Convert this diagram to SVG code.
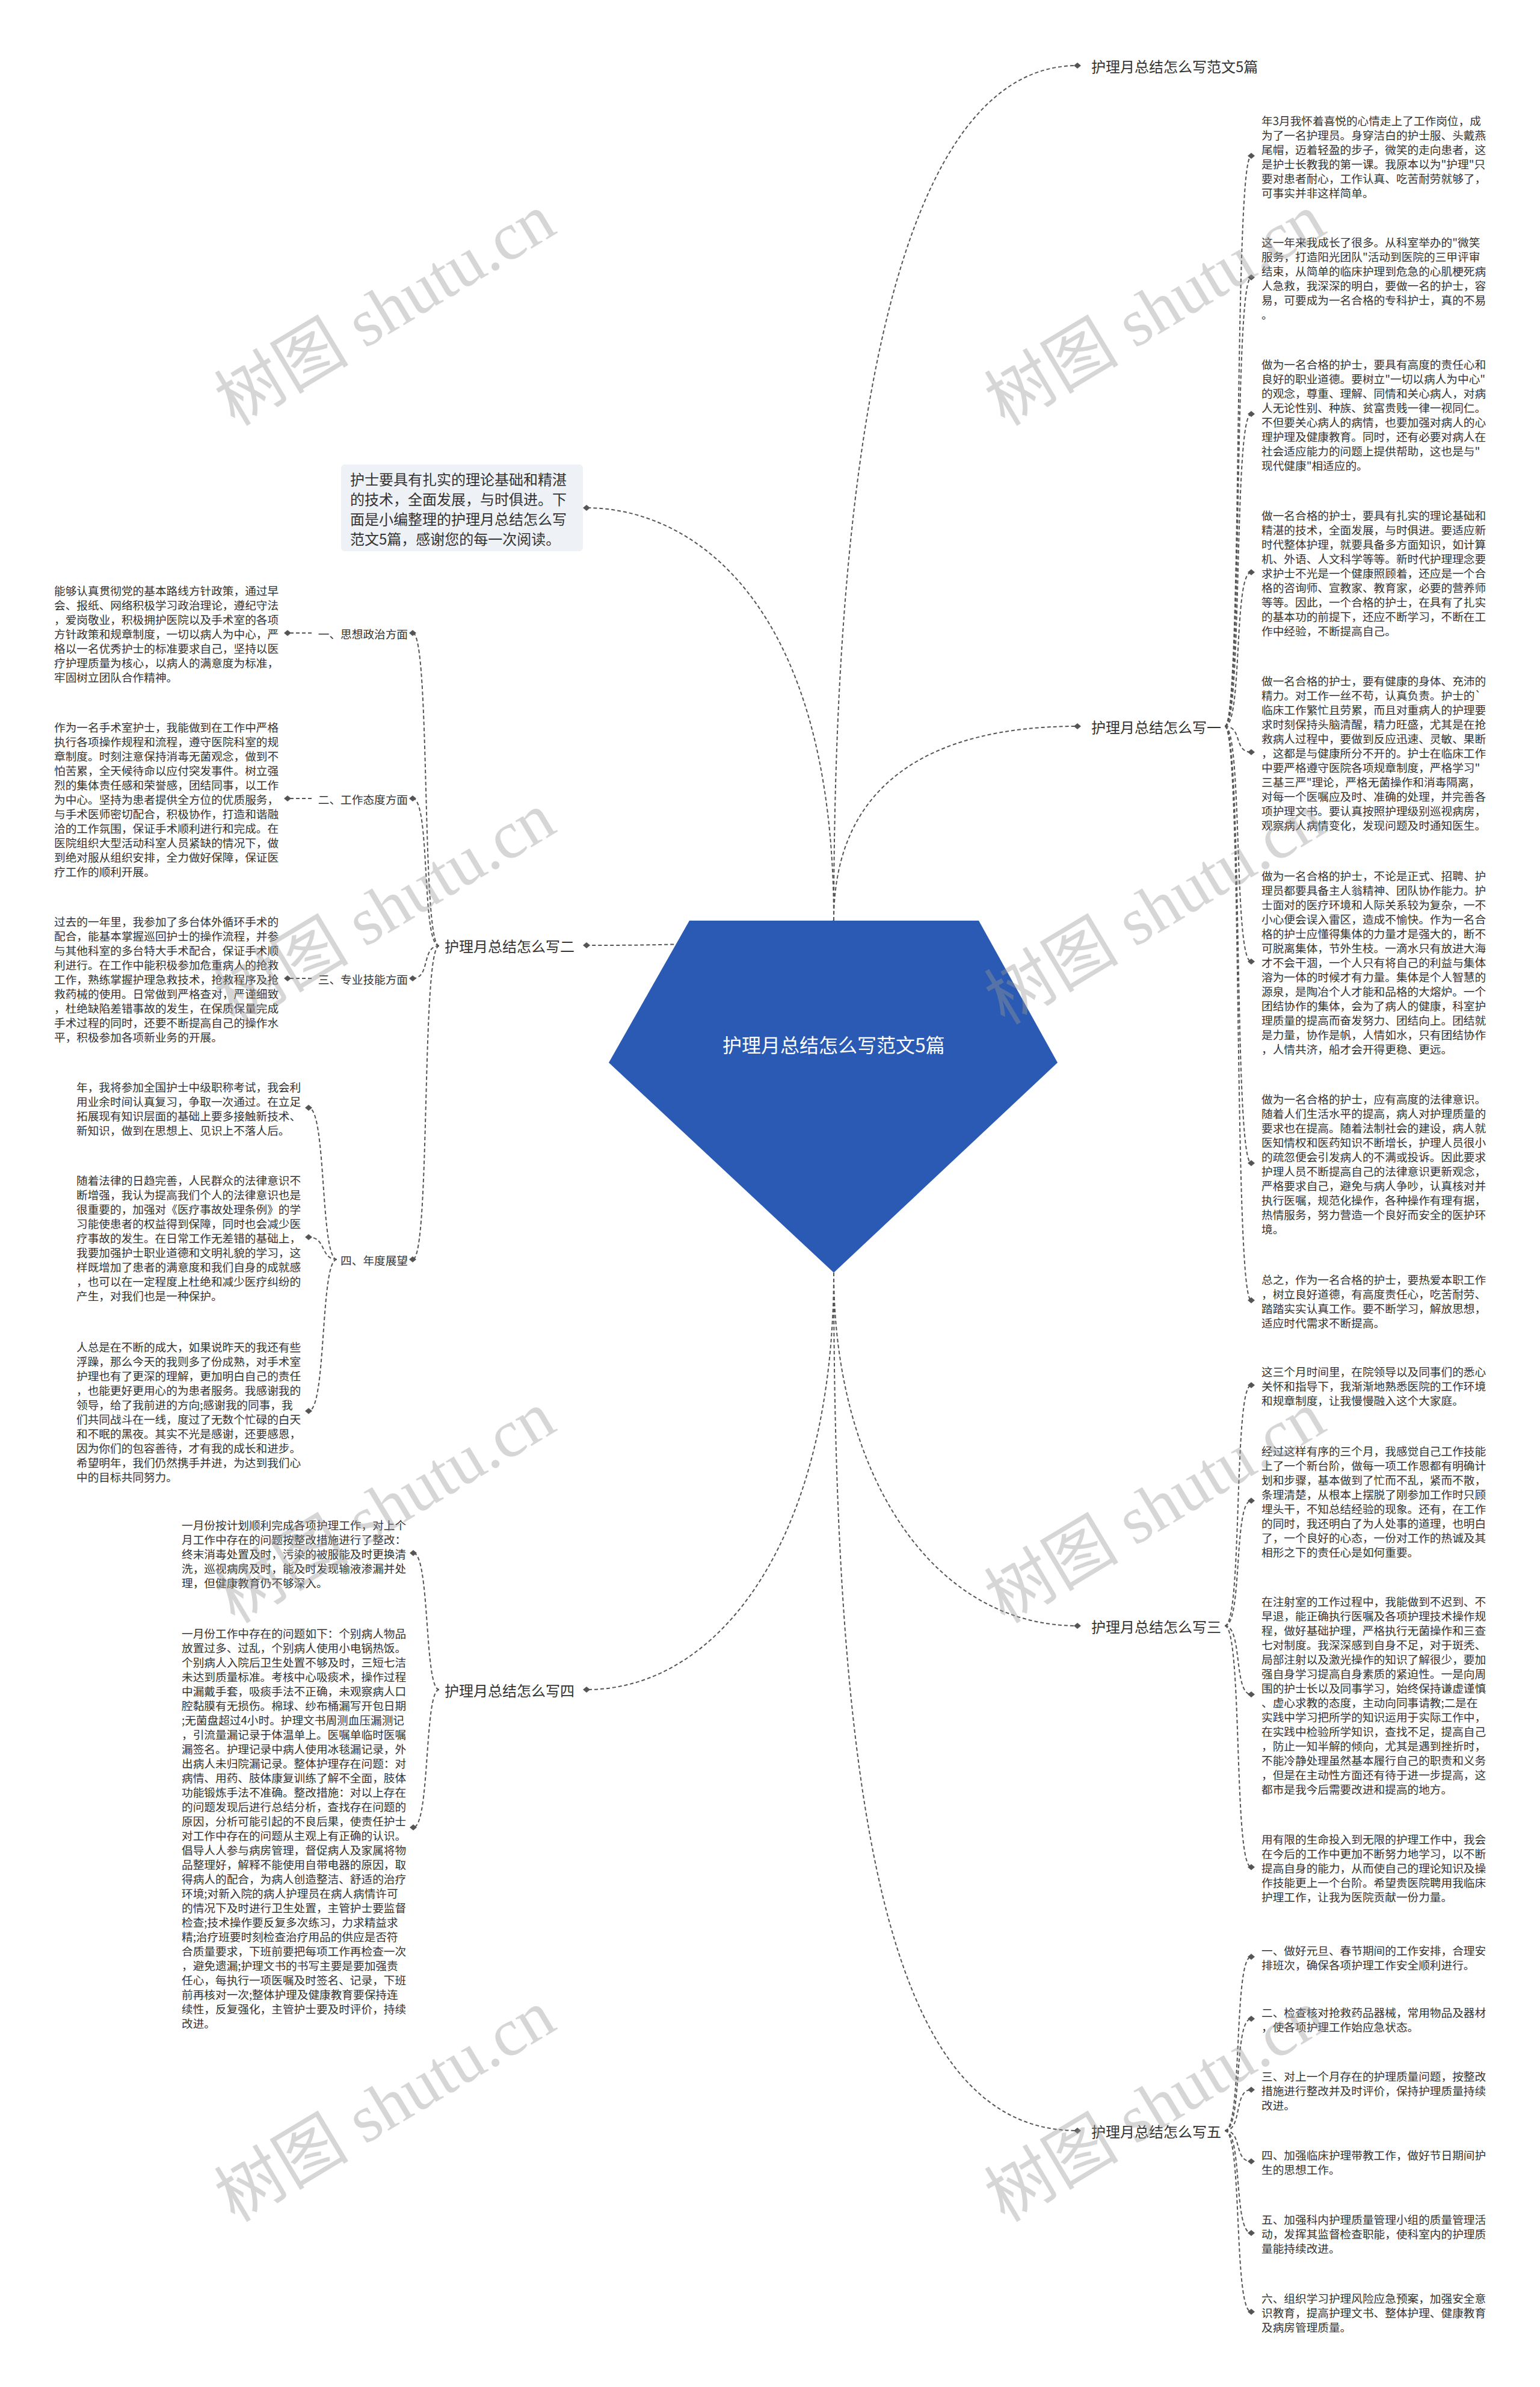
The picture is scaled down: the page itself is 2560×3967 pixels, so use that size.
<svg xmlns="http://www.w3.org/2000/svg" xmlns:xlink="http://www.w3.org/1999/xlink" width="2560" height="3967" viewBox="0 0 2560 3967">
<style>
.t{font-family:"Noto Sans CJK SC","Liberation Sans",sans-serif;font-size:18.67px;fill:#333;dominant-baseline:central}
.l1{font-family:"Noto Sans CJK SC","Liberation Sans",sans-serif;font-size:24px;fill:#333;dominant-baseline:central}
.l2{font-family:"Noto Sans CJK SC","Liberation Sans",sans-serif;font-size:18.67px;fill:#333;dominant-baseline:central;text-anchor:end}
.c{fill:none;stroke:#555;stroke-width:2;stroke-dasharray:6 4}
.wm{font-family:"Liberation Serif","Noto Sans CJK SC",serif;font-size:112px;fill:#999;fill-opacity:0.4;text-anchor:middle;dominant-baseline:central}
</style>
<defs>
<path id="dm" d="M-6,0 L0,-5 L6,0 L0,5 Z" fill="#555"/>
</defs>
<rect width="2560" height="3967" fill="#ffffff"/>

<g id="connectors">
<path class="c" d="M1386,1530 C1386,700 1500,109 1791,109"/>
<path class="c" d="M1386,1530 C1386,1300 1550,1207 1791,1207"/>
<path class="c" d="M1386,1530 C1386,1000 1150,844 975,844"/>
<path class="c" d="M1386,1530 C1300,1571 1100,1571 975,1571"/>
<path class="c" d="M1386,2115 C1386,2450 1550,2702 1791,2702"/>
<path class="c" d="M1386,2115 C1386,3100 1500,3541 1791,3541"/>
<path class="c" d="M1386,2115 C1386,2550 1200,2808 975,2808"/>
<path class="c" d="M2036,1207 C2066,1207 2050,259 2080,259"/>
<path class="c" d="M2036,1207 C2066,1207 2050,461 2080,461"/>
<path class="c" d="M2036,1207 C2066,1207 2050,688 2080,688"/>
<path class="c" d="M2036,1207 C2066,1207 2050,951 2080,951"/>
<path class="c" d="M2036,1207 C2066,1207 2050,1250 2080,1250"/>
<path class="c" d="M2036,1207 C2066,1207 2050,1598 2080,1598"/>
<path class="c" d="M2036,1207 C2066,1207 2050,1933 2080,1933"/>
<path class="c" d="M2036,1207 C2066,1207 2050,2161 2080,2161"/>
<path class="c" d="M2036,2702 C2066,2702 2050,2302 2080,2302"/>
<path class="c" d="M2036,2702 C2066,2702 2050,2494 2080,2494"/>
<path class="c" d="M2036,2702 C2066,2702 2050,2816 2080,2816"/>
<path class="c" d="M2036,2702 C2066,2702 2050,3103 2080,3103"/>
<path class="c" d="M2036,3541 C2066,3541 2050,3252 2080,3252"/>
<path class="c" d="M2036,3541 C2066,3541 2050,3355 2080,3355"/>
<path class="c" d="M2036,3541 C2066,3541 2050,3473 2080,3473"/>
<path class="c" d="M2036,3541 C2066,3541 2050,3592 2080,3592"/>
<path class="c" d="M2036,3541 C2066,3541 2050,3711 2080,3711"/>
<path class="c" d="M2036,3541 C2066,3541 2050,3842 2080,3842"/>
<path class="c" d="M730,1572 C700,1572 716,1052 686,1052"/>
<path class="c" d="M730,1572 C700,1572 716,1327 686,1327"/>
<path class="c" d="M730,1572 C700,1572 716,1626 686,1626"/>
<path class="c" d="M730,1572 C700,1572 716,2093 686,2093"/>
<path class="c" d="M518,1052 L478,1052"/>
<path class="c" d="M518,1327 L478,1327"/>
<path class="c" d="M518,1626 L478,1626"/>
<path class="c" d="M560,2093 C532,2093 543,1841 513,1841"/>
<path class="c" d="M560,2093 C532,2093 543,2056 513,2056"/>
<path class="c" d="M560,2093 C532,2093 543,2345 513,2345"/>
<path class="c" d="M730,2808 C705,2808 715,2581 687,2581"/>
<path class="c" d="M730,2808 C705,2808 715,3037 687,3037"/>
<use xlink:href="#dm" x="1791" y="109"/>
<use xlink:href="#dm" x="1791" y="1207"/>
<use xlink:href="#dm" x="1791" y="2702"/>
<use xlink:href="#dm" x="1791" y="3541"/>
<use xlink:href="#dm" x="975" y="844"/>
<use xlink:href="#dm" x="975" y="1571"/>
<use xlink:href="#dm" x="975" y="2808"/>
<use xlink:href="#dm" x="2080" y="259"/>
<use xlink:href="#dm" x="2080" y="461"/>
<use xlink:href="#dm" x="2080" y="688"/>
<use xlink:href="#dm" x="2080" y="951"/>
<use xlink:href="#dm" x="2080" y="1250"/>
<use xlink:href="#dm" x="2080" y="1598"/>
<use xlink:href="#dm" x="2080" y="1933"/>
<use xlink:href="#dm" x="2080" y="2161"/>
<use xlink:href="#dm" x="2080" y="2302"/>
<use xlink:href="#dm" x="2080" y="2494"/>
<use xlink:href="#dm" x="2080" y="2816"/>
<use xlink:href="#dm" x="2080" y="3103"/>
<use xlink:href="#dm" x="2080" y="3252"/>
<use xlink:href="#dm" x="2080" y="3355"/>
<use xlink:href="#dm" x="2080" y="3473"/>
<use xlink:href="#dm" x="2080" y="3592"/>
<use xlink:href="#dm" x="2080" y="3711"/>
<use xlink:href="#dm" x="2080" y="3842"/>
<use xlink:href="#dm" x="686" y="1052"/>
<use xlink:href="#dm" x="686" y="1327"/>
<use xlink:href="#dm" x="686" y="1626"/>
<use xlink:href="#dm" x="686" y="2093"/>
<use xlink:href="#dm" x="478" y="1052"/>
<use xlink:href="#dm" x="478" y="1327"/>
<use xlink:href="#dm" x="478" y="1626"/>
<use xlink:href="#dm" x="513" y="1841"/>
<use xlink:href="#dm" x="513" y="2056"/>
<use xlink:href="#dm" x="513" y="2345"/>
<use xlink:href="#dm" x="687" y="2581"/>
<use xlink:href="#dm" x="687" y="3037"/>
</g>

<g id="center">
<polygon points="1146,1530 1627,1530 1758,1766 1386,2115 1012,1766" fill="#2a5ab3"/>
<text x="1386" y="1735" text-anchor="middle" style="font-family:'Noto Sans CJK SC',sans-serif;font-size:32px;fill:#fff;dominant-baseline:central">护理月总结怎么写范文5篇</text>
</g>

<g id="intro">
<rect x="567" y="772" width="402" height="144" rx="6" fill="#eef1f6"/>
<text class="l1" x="582" y="795">护士要具有扎实的理论基础和精湛<tspan x="582" dy="33">的技术，全面发展，与时俱进。下</tspan><tspan x="582" dy="33">面是小编整理的护理月总结怎么写</tspan><tspan x="582" dy="33">范文5篇，感谢您的每一次阅读。</tspan></text>
</g>

<g id="n-fanwen"><text class="l1" x="1814" y="109">护理月总结怎么写范文5篇</text></g>
<g id="n-1"><text class="l1" x="1814" y="1207">护理月总结怎么写一</text></g>
<g id="n-3"><text class="l1" x="1814" y="2702">护理月总结怎么写三</text></g>
<g id="n-5"><text class="l1" x="1814" y="3541">护理月总结怎么写五</text></g>
<g id="n-2"><text class="l1" x="739" y="1571">护理月总结怎么写二</text></g>
<g id="n-4"><text class="l1" x="739" y="2808">护理月总结怎么写四</text></g>

<g id="n-2-labels">
<text class="l2" x="678" y="1052">一、思想政治方面</text>
<text class="l2" x="678" y="1327">二、工作态度方面</text>
<text class="l2" x="678" y="1626">三、专业技能方面</text>
<text class="l2" x="678" y="2093">四、年度展望</text>
</g>

<g id="r1-leaves">
<text class="t" x="2097" y="199">年3月我怀着喜悦的心情走上了工作岗位，成<tspan x="2097" dy="24">为了一名护理员。身穿洁白的护士服、头戴燕</tspan><tspan x="2097" dy="24">尾帽，迈着轻盈的步子，微笑的走向患者，这</tspan><tspan x="2097" dy="24">是护士长教我的第一课。我原本以为"护理"只</tspan><tspan x="2097" dy="24">要对患者耐心，工作认真、吃苦耐劳就够了，</tspan><tspan x="2097" dy="24">可事实并非这样简单。</tspan></text>
<text class="t" x="2097" y="401">这一年来我成长了很多。从科室举办的"微笑<tspan x="2097" dy="24">服务，打造阳光团队"活动到医院的三甲评审</tspan><tspan x="2097" dy="24">结束，从简单的临床护理到危急的心肌梗死病</tspan><tspan x="2097" dy="24">人急救，我深深的明白，要做一名的护士，容</tspan><tspan x="2097" dy="24">易，可要成为一名合格的专科护士，真的不易</tspan><tspan x="2097" dy="24">。</tspan></text>
<text class="t" x="2097" y="604">做为一名合格的护士，要具有高度的责任心和<tspan x="2097" dy="24">良好的职业道德。要树立"一切以病人为中心"</tspan><tspan x="2097" dy="24">的观念，尊重、理解、同情和关心病人，对病</tspan><tspan x="2097" dy="24">人无论性别、种族、贫富贵贱一律一视同仁。</tspan><tspan x="2097" dy="24">不但要关心病人的病情，也要加强对病人的心</tspan><tspan x="2097" dy="24">理护理及健康教育。同时，还有必要对病人在</tspan><tspan x="2097" dy="24">社会适应能力的问题上提供帮助，这也是与"</tspan><tspan x="2097" dy="24">现代健康"相适应的。</tspan></text>
<text class="t" x="2097" y="855">做一名合格的护士，要具有扎实的理论基础和<tspan x="2097" dy="24">精湛的技术，全面发展，与时俱进。要适应新</tspan><tspan x="2097" dy="24">时代整体护理，就要具备多方面知识，如计算</tspan><tspan x="2097" dy="24">机、外语、人文科学等等。新时代护理理念要</tspan><tspan x="2097" dy="24">求护士不光是一个健康照顾着，还应是一个合</tspan><tspan x="2097" dy="24">格的咨询师、宣教家、教育家，必要的营养师</tspan><tspan x="2097" dy="24">等等。因此，一个合格的护士，在具有了扎实</tspan><tspan x="2097" dy="24">的基本功的前提下，还应不断学习，不断在工</tspan><tspan x="2097" dy="24">作中经验，不断提高自己。</tspan></text>
<text class="t" x="2097" y="1130">做一名合格的护士，要有健康的身体、充沛的<tspan x="2097" dy="24">精力。对工作一丝不苟，认真负责。护士的`</tspan><tspan x="2097" dy="24">临床工作繁忙且劳累，而且对重病人的护理要</tspan><tspan x="2097" dy="24">求时刻保持头脑清醒，精力旺盛，尤其是在抢</tspan><tspan x="2097" dy="24">救病人过程中，要做到反应迅速、灵敏、果断</tspan><tspan x="2097" dy="24">，这都是与健康所分不开的。护士在临床工作</tspan><tspan x="2097" dy="24">中要严格遵守医院各项规章制度，严格学习"</tspan><tspan x="2097" dy="24">三基三严"理论，严格无菌操作和消毒隔离，</tspan><tspan x="2097" dy="24">对每一个医嘱应及时、准确的处理，并完善各</tspan><tspan x="2097" dy="24">项护理文书。要认真按照护理级别巡视病房，</tspan><tspan x="2097" dy="24">观察病人病情变化，发现问题及时通知医生。</tspan></text>
<text class="t" x="2097" y="1454">做为一名合格的护士，不论是正式、招聘、护<tspan x="2097" dy="24">理员都要具备主人翁精神、团队协作能力。护</tspan><tspan x="2097" dy="24">士面对的医疗环境和人际关系较为复杂，一不</tspan><tspan x="2097" dy="24">小心便会误入雷区，造成不愉快。作为一名合</tspan><tspan x="2097" dy="24">格的护士应懂得集体的力量才是强大的，断不</tspan><tspan x="2097" dy="24">可脱离集体，节外生枝。一滴水只有放进大海</tspan><tspan x="2097" dy="24">才不会干涸，一个人只有将自己的利益与集体</tspan><tspan x="2097" dy="24">溶为一体的时候才有力量。集体是个人智慧的</tspan><tspan x="2097" dy="24">源泉，是陶冶个人才能和品格的大熔炉。一个</tspan><tspan x="2097" dy="24">团结协作的集体，会为了病人的健康，科室护</tspan><tspan x="2097" dy="24">理质量的提高而奋发努力、团结向上。团结就</tspan><tspan x="2097" dy="24">是力量，协作是帆，人情如水，只有团结协作</tspan><tspan x="2097" dy="24">，人情共济，船才会开得更稳、更远。</tspan></text>
<text class="t" x="2097" y="1825">做为一名合格的护士，应有高度的法律意识。<tspan x="2097" dy="24">随着人们生活水平的提高，病人对护理质量的</tspan><tspan x="2097" dy="24">要求也在提高。随着法制社会的建设，病人就</tspan><tspan x="2097" dy="24">医知情权和医药知识不断增长，护理人员很小</tspan><tspan x="2097" dy="24">的疏忽便会引发病人的不满或投诉。因此要求</tspan><tspan x="2097" dy="24">护理人员不断提高自己的法律意识更新观念，</tspan><tspan x="2097" dy="24">严格要求自己，避免与病人争吵，认真核对并</tspan><tspan x="2097" dy="24">执行医嘱，规范化操作，各种操作有理有据，</tspan><tspan x="2097" dy="24">热情服务，努力营造一个良好而安全的医护环</tspan><tspan x="2097" dy="24">境。</tspan></text>
<text class="t" x="2097" y="2125">总之，作为一名合格的护士，要热爱本职工作<tspan x="2097" dy="24">，树立良好道德，有高度责任心，吃苦耐劳、</tspan><tspan x="2097" dy="24">踏踏实实认真工作。要不断学习，解放思想，</tspan><tspan x="2097" dy="24">适应时代需求不断提高。</tspan></text>
</g>

<g id="r3-leaves">
<text class="t" x="2097" y="2278">这三个月时间里，在院领导以及同事们的悉心<tspan x="2097" dy="24">关怀和指导下，我渐渐地熟悉医院的工作环境</tspan><tspan x="2097" dy="24">和规章制度，让我慢慢融入这个大家庭。</tspan></text>
<text class="t" x="2097" y="2410">经过这样有序的三个月，我感觉自己工作技能<tspan x="2097" dy="24">上了一个新台阶，做每一项工作恩都有明确计</tspan><tspan x="2097" dy="24">划和步骤，基本做到了忙而不乱，紧而不散，</tspan><tspan x="2097" dy="24">条理清楚，从根本上摆脱了刚参加工作时只顾</tspan><tspan x="2097" dy="24">埋头干，不知总结经验的现象。还有，在工作</tspan><tspan x="2097" dy="24">的同时，我还明白了为人处事的道理，也明白</tspan><tspan x="2097" dy="24">了，一个良好的心态，一份对工作的热诚及其</tspan><tspan x="2097" dy="24">相形之下的责任心是如何重要。</tspan></text>
<text class="t" x="2097" y="2660">在注射室的工作过程中，我能做到不迟到、不<tspan x="2097" dy="24">早退，能正确执行医嘱及各项护理技术操作规</tspan><tspan x="2097" dy="24">程，做好基础护理，严格执行无菌操作和三查</tspan><tspan x="2097" dy="24">七对制度。我深深感到自身不足，对于斑秃、</tspan><tspan x="2097" dy="24">局部注射以及激光操作的知识了解很少，要加</tspan><tspan x="2097" dy="24">强自身学习提高自身素质的紧迫性。一是向周</tspan><tspan x="2097" dy="24">围的护士长以及同事学习，始终保持谦虚谨慎</tspan><tspan x="2097" dy="24">、虚心求教的态度，主动向同事请教;二是在</tspan><tspan x="2097" dy="24">实践中学习把所学的知识运用于实际工作中，</tspan><tspan x="2097" dy="24">在实践中检验所学知识，查找不足，提高自己</tspan><tspan x="2097" dy="24">，防止一知半解的倾向，尤其是遇到挫折时，</tspan><tspan x="2097" dy="24">不能冷静处理虽然基本履行自己的职责和义务</tspan><tspan x="2097" dy="24">，但是在主动性方面还有待于进一步提高，这</tspan><tspan x="2097" dy="24">都市是我今后需要改进和提高的地方。</tspan></text>
<text class="t" x="2097" y="3055">用有限的生命投入到无限的护理工作中，我会<tspan x="2097" dy="24">在今后的工作中更加不断努力地学习，以不断</tspan><tspan x="2097" dy="24">提高自身的能力，从而使自己的理论知识及操</tspan><tspan x="2097" dy="24">作技能更上一个台阶。希望贵医院聘用我临床</tspan><tspan x="2097" dy="24">护理工作，让我为医院贡献一份力量。</tspan></text>
</g>

<g id="r5-leaves">
<text class="t" x="2097" y="3240">一、做好元旦、春节期间的工作安排，合理安<tspan x="2097" dy="24">排班次，确保各项护理工作安全顺利进行。</tspan></text>
<text class="t" x="2097" y="3343">二、检查核对抢救药品器械，常用物品及器材<tspan x="2097" dy="24">，使各项护理工作始应急状态。</tspan></text>
<text class="t" x="2097" y="3449">三、对上一个月存在的护理质量问题，按整改<tspan x="2097" dy="24">措施进行整改并及时评价，保持护理质量持续</tspan><tspan x="2097" dy="24">改进。</tspan></text>
<text class="t" x="2097" y="3580">四、加强临床护理带教工作，做好节日期间护<tspan x="2097" dy="24">生的思想工作。</tspan></text>
<text class="t" x="2097" y="3687">五、加强科内护理质量管理小组的质量管理活<tspan x="2097" dy="24">动，发挥其监督检查职能，使科室内的护理质</tspan><tspan x="2097" dy="24">量能持续改进。</tspan></text>
<text class="t" x="2097" y="3818">六、组织学习护理风险应急预案，加强安全意<tspan x="2097" dy="24">识教育，提高护理文书、整体护理、健康教育</tspan><tspan x="2097" dy="24">及病房管理质量。</tspan></text>
</g>

<g id="l2-leaves">
<text class="t" x="90" y="980">能够认真贯彻党的基本路线方针政策，通过早<tspan x="90" dy="24">会、报纸、网络积极学习政治理论，遵纪守法</tspan><tspan x="90" dy="24">，爱岗敬业，积极拥护医院以及手术室的各项</tspan><tspan x="90" dy="24">方针政策和规章制度，一切以病人为中心，严</tspan><tspan x="90" dy="24">格以一名优秀护士的标准要求自己，坚持以医</tspan><tspan x="90" dy="24">疗护理质量为核心，以病人的满意度为标准，</tspan><tspan x="90" dy="24">牢固树立团队合作精神。</tspan></text>
<text class="t" x="90" y="1207">作为一名手术室护士，我能做到在工作中严格<tspan x="90" dy="24">执行各项操作规程和流程，遵守医院科室的规</tspan><tspan x="90" dy="24">章制度。时刻注意保持消毒无菌观念，做到不</tspan><tspan x="90" dy="24">怕苦累，全天候待命以应付突发事件。树立强</tspan><tspan x="90" dy="24">烈的集体责任感和荣誉感，团结同事，以工作</tspan><tspan x="90" dy="24">为中心。坚持为患者提供全方位的优质服务，</tspan><tspan x="90" dy="24">与手术医师密切配合，积极协作，打造和谐融</tspan><tspan x="90" dy="24">洽的工作氛围，保证手术顺利进行和完成。在</tspan><tspan x="90" dy="24">医院组织大型活动科室人员紧缺的情况下，做</tspan><tspan x="90" dy="24">到绝对服从组织安排，全力做好保障，保证医</tspan><tspan x="90" dy="24">疗工作的顺利开展。</tspan></text>
<text class="t" x="90" y="1530">过去的一年里，我参加了多台体外循环手术的<tspan x="90" dy="24">配合，能基本掌握巡回护士的操作流程，并参</tspan><tspan x="90" dy="24">与其他科室的多台特大手术配合，保证手术顺</tspan><tspan x="90" dy="24">利进行。在工作中能积极参加危重病人的抢救</tspan><tspan x="90" dy="24">工作，熟练掌握护理急救技术，抢救程序及抢</tspan><tspan x="90" dy="24">救药械的使用。日常做到严格查对，严谨细致</tspan><tspan x="90" dy="24">，杜绝缺陷差错事故的发生，在保质保量完成</tspan><tspan x="90" dy="24">手术过程的同时，还要不断提高自己的操作水</tspan><tspan x="90" dy="24">平，积极参加各项新业务的开展。</tspan></text>
<text class="t" x="127" y="1805">年，我将参加全国护士中级职称考试，我会利<tspan x="127" dy="24">用业余时间认真复习，争取一次通过。在立足</tspan><tspan x="127" dy="24">拓展现有知识层面的基础上要多接触新技术、</tspan><tspan x="127" dy="24">新知识，做到在思想上、见识上不落人后。</tspan></text>
<text class="t" x="127" y="1960">随着法律的日趋完善，人民群众的法律意识不<tspan x="127" dy="24">断增强，我认为提高我们个人的法律意识也是</tspan><tspan x="127" dy="24">很重要的，加强对《医疗事故处理条例》的学</tspan><tspan x="127" dy="24">习能使患者的权益得到保障，同时也会减少医</tspan><tspan x="127" dy="24">疗事故的发生。在日常工作无差错的基础上，</tspan><tspan x="127" dy="24">我要加强护士职业道德和文明礼貌的学习，这</tspan><tspan x="127" dy="24">样既增加了患者的满意度和我们自身的成就感</tspan><tspan x="127" dy="24">，也可以在一定程度上杜绝和减少医疗纠纷的</tspan><tspan x="127" dy="24">产生，对我们也是一种保护。</tspan></text>
<text class="t" x="127" y="2237">人总是在不断的成大，如果说昨天的我还有些<tspan x="127" dy="24">浮躁，那么今天的我则多了份成熟，对手术室</tspan><tspan x="127" dy="24">护理也有了更深的理解，更加明白自己的责任</tspan><tspan x="127" dy="24">，也能更好更用心的为患者服务。我感谢我的</tspan><tspan x="127" dy="24">领导，给了我前进的方向;感谢我的同事，我</tspan><tspan x="127" dy="24">们共同战斗在一线，度过了无数个忙碌的白天</tspan><tspan x="127" dy="24">和不眠的黑夜。其实不光是感谢，还要感恩，</tspan><tspan x="127" dy="24">因为你们的包容善待，才有我的成长和进步。</tspan><tspan x="127" dy="24">希望明年，我们仍然携手并进，为达到我们心</tspan><tspan x="127" dy="24">中的目标共同努力。</tspan></text>
</g>

<g id="l4-leaves">
<text class="t" x="302" y="2533">一月份按计划顺利完成各项护理工作，对上个<tspan x="302" dy="24">月工作中存在的问题按整改措施进行了整改：</tspan><tspan x="302" dy="24">终末消毒处置及时，污染的被服能及时更换清</tspan><tspan x="302" dy="24">洗，巡视病房及时，能及时发现输液渗漏并处</tspan><tspan x="302" dy="24">理，但健康教育仍不够深入。</tspan></text>
<text class="t" x="302" y="2713">一月份工作中存在的问题如下：个别病人物品<tspan x="302" dy="24">放置过多、过乱，个别病人使用小电锅热饭。</tspan><tspan x="302" dy="24">个别病人入院后卫生处置不够及时，三短七洁</tspan><tspan x="302" dy="24">未达到质量标准。考核中心吸痰术，操作过程</tspan><tspan x="302" dy="24">中漏戴手套，吸痰手法不正确，未观察病人口</tspan><tspan x="302" dy="24">腔黏膜有无损伤。棉球、纱布桶漏写开包日期</tspan><tspan x="302" dy="24">;无菌盘超过4小时。护理文书周测血压漏测记</tspan><tspan x="302" dy="24">，引流量漏记录于体温单上。医嘱单临时医嘱</tspan><tspan x="302" dy="24">漏签名。护理记录中病人使用冰毯漏记录，外</tspan><tspan x="302" dy="24">出病人未归院漏记录。整体护理存在问题：对</tspan><tspan x="302" dy="24">病情、用药、肢体康复训练了解不全面，肢体</tspan><tspan x="302" dy="24">功能锻炼手法不准确。整改措施：对以上存在</tspan><tspan x="302" dy="24">的问题发现后进行总结分析，查找存在问题的</tspan><tspan x="302" dy="24">原因，分析可能引起的不良后果，使责任护士</tspan><tspan x="302" dy="24">对工作中存在的问题从主观上有正确的认识。</tspan><tspan x="302" dy="24">倡导人人参与病房管理，督促病人及家属将物</tspan><tspan x="302" dy="24">品整理好，解释不能使用自带电器的原因，取</tspan><tspan x="302" dy="24">得病人的配合，为病人创造整洁、舒适的治疗</tspan><tspan x="302" dy="24">环境;对新入院的病人护理员在病人病情许可</tspan><tspan x="302" dy="24">的情况下及时进行卫生处置，主管护士要监督</tspan><tspan x="302" dy="24">检查;技术操作要反复多次练习，力求精益求</tspan><tspan x="302" dy="24">精;治疗班要时刻检查治疗用品的供应是否符</tspan><tspan x="302" dy="24">合质量要求，下班前要把每项工作再检查一次</tspan><tspan x="302" dy="24">，避免遗漏;护理文书的书写主要是要加强责</tspan><tspan x="302" dy="24">任心，每执行一项医嘱及时签名、记录，下班</tspan><tspan x="302" dy="24">前再核对一次;整体护理及健康教育要保持连</tspan><tspan x="302" dy="24">续性，反复强化，主管护士要及时评价，持续</tspan><tspan x="302" dy="24">改进。</tspan></text>
</g>

<g id="watermarks">
<text class="wm" x="640" y="515" transform="rotate(-31 640 515)">树图 shutu.cn</text>
<text class="wm" x="640" y="1510" transform="rotate(-31 640 1510)">树图 shutu.cn</text>
<text class="wm" x="640" y="2505" transform="rotate(-31 640 2505)">树图 shutu.cn</text>
<text class="wm" x="640" y="3500" transform="rotate(-31 640 3500)">树图 shutu.cn</text>
<text class="wm" x="1920" y="515" transform="rotate(-31 1920 515)">树图 shutu.cn</text>
<text class="wm" x="1920" y="1510" transform="rotate(-31 1920 1510)">树图 shutu.cn</text>
<text class="wm" x="1920" y="2505" transform="rotate(-31 1920 2505)">树图 shutu.cn</text>
<text class="wm" x="1920" y="3500" transform="rotate(-31 1920 3500)">树图 shutu.cn</text>
</g>
</svg>
